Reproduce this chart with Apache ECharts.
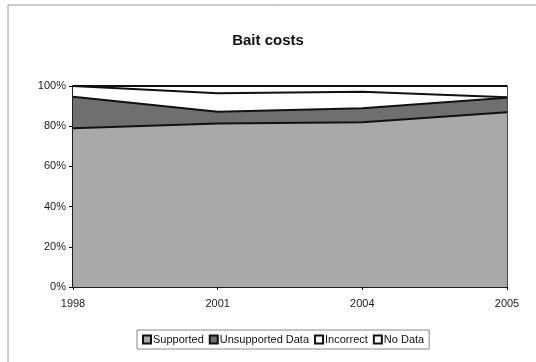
<!DOCTYPE html>
<html>
<head>
<meta charset="utf-8">
<script src="https://cdn.jsdelivr.net/npm/echarts@6/dist/echarts.min.js"></script>
<style>
  html, body { margin: 0; padding: 0; background: #fff; }
  #chart { width: 536px; height: 362px; }
</style>
</head>
<body>
<div id="chart"></div>
<script>
// Survey years along the x axis
const years = ['1998', '2001', '2004', '2005'];

// Share of responses (percent) per category, stacked to 100%
const supported   = [79.0, 81.4, 82.0, 87.0];
const unsupported = [15.7,  5.8,  6.9,  7.2];
const incorrect   = [ 5.3,  9.2,  8.3,  0.2];
const noData      = [ 0.0,  3.6,  2.8,  5.6];

const seriesNames  = ['Supported', 'Unsupported Data', 'Incorrect', 'No Data'];
const seriesValues = [supported, unsupported, incorrect, noData];
const seriesColors = ['#a9a9a9', '#6f6f6f', '#ffffff', '#ffffff'];

const chart = echarts.init(document.getElementById('chart'), null, { renderer: 'canvas' });

const font = 'Liberation Sans, Arial, sans-serif';

chart.setOption({
  animation: false,
  backgroundColor: '#ffffff',
  title: {
    text: 'Bait costs',
    left: 'center',
    top: 28,
    textStyle: { fontFamily: font, fontSize: 15, fontWeight: 'bold', color: '#111' }
  },
  graphic: [{
    type: 'rect',
    shape: { x: 8, y: 5, width: 540, height: 370 },
    style: { fill: 'none', stroke: '#9a9a9a', lineWidth: 1 },
    silent: true
  }],
  legend: {
    left: 137,
    top: 330,
    itemWidth: 8,
    itemHeight: 8,
    itemGap: 5,
    icon: 'rect',
    padding: [4, 5, 4, 5],
    borderColor: '#888',
    borderWidth: 1,
    backgroundColor: '#fff',
    textStyle: { fontFamily: font, fontSize: 11, color: '#111', padding: [0, 0, 0, -3] },
    data: seriesNames
  },
  grid: {
    left: 73, right: 29, top: 86, bottom: 75,
    show: true,
    borderColor: '#111',
    borderWidth: 1.5
  },
  xAxis: {
    type: 'category',
    boundaryGap: false,
    data: years,
    axisLine: { lineStyle: { color: '#111', width: 1.5 } },
    axisTick: { show: true, length: 3, lineStyle: { color: '#111' } },
    axisLabel: { fontFamily: font, fontSize: 11, color: '#222', margin: 11 },
    splitLine: { show: false }
  },
  yAxis: {
    type: 'value',
    min: 0,
    max: 100,
    interval: 20,
    axisLine: { show: true, lineStyle: { color: '#111', width: 1.5 } },
    axisTick: { show: true, length: 4, lineStyle: { color: '#111' } },
    axisLabel: { fontFamily: font, fontSize: 11, color: '#222', formatter: '{value}%', margin: 7 },
    splitLine: { show: false }
  },
  series: seriesNames.map((name, i) => ({
    name: name,
    type: 'line',
    stack: 'share',
    data: seriesValues[i],
    symbol: 'none',
    lineStyle: { color: '#111', width: 2 },
    itemStyle: { color: seriesColors[i], borderColor: '#111', borderWidth: 2 },
    areaStyle: { color: seriesColors[i], opacity: 1 }
  }))
});
</script>
</body>
</html>
